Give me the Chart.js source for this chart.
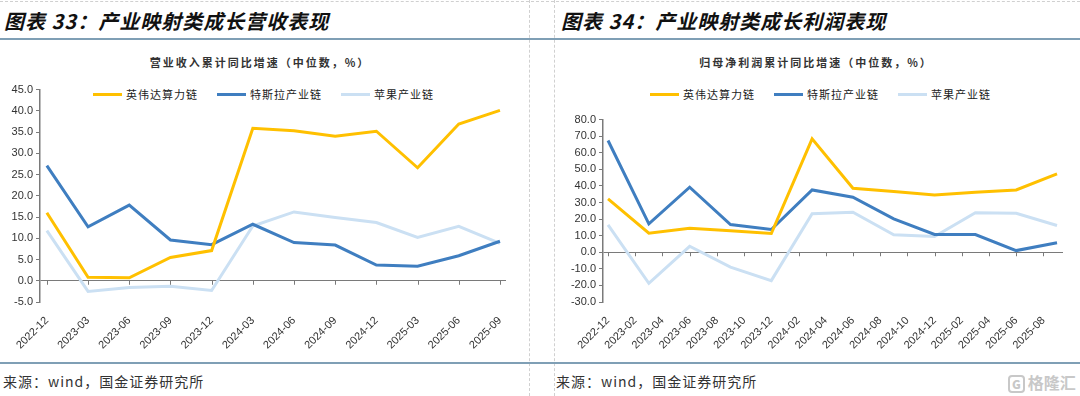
<!DOCTYPE html>
<html>
<head>
<meta charset="utf-8">
<script src="https://cdn.jsdelivr.net/npm/chart.js@4"></script>
<style>
  body { margin: 0; width: 1080px; height: 396px; background: #fff; position: relative; overflow: hidden;
         font-family: "Noto Sans CJK SC", sans-serif; color: #222; }
  .abs { position: absolute; }
  .dashH { left: 0; top: 1px; width: 1080px; border-top: 1px dashed #d0d0d0; }
  .dashV { top: 0; height: 396px; border-left: 1px dashed #d0d0d0; }
  .rule { left: 0; width: 1080px; height: 2px; background: #7f9fb5; }
  .title { top: 6px; font-size: 20px; font-weight: bold; font-style: italic; letter-spacing: 1px; color: #111; }
  .sub { top: 54px; font-size: 11px; font-weight: bold; letter-spacing: 2px; color: #333; text-align: center; }
  .legend { top: 86px; font-size: 11px; letter-spacing: 1px; color: #222; display: flex; align-items: center; white-space: nowrap; }
  .legend i { display: inline-block; width: 29px; height: 3px; margin: 0 4px 0 0; }
  .legend span { margin-right: 19px; }
  .src { top: 371px; font-size: 14px; letter-spacing: 1px; color: #333; }
  .wm { left: 1008px; top: 370px; font-size: 16px; font-weight: bold; color: #c8c8c8; white-space: nowrap; }
  .wm b { display: inline-block; border: 2px solid #c8c8c8; border-radius: 4px; font-size: 12px; line-height: 14px; padding: 0 2px; margin-right: 3px; }
</style>
</head>
<body>
<div class="abs dashH"></div>
<div class="abs dashV" style="left:529px"></div>
<div class="abs dashV" style="left:554px"></div>
<div class="abs rule" style="top:38px"></div>
<div class="abs rule" style="top:362px"></div>

<div class="abs title" style="left:4px">图表 33：产业映射类成长营收表现</div>
<div class="abs title" style="left:561px">图表 34：产业映射类成长利润表现</div>
<div class="abs sub" style="left:60px;width:400px">营业收入累计同比增速（中位数，%）</div>
<div class="abs sub" style="left:616px;width:400px">归母净利润累计同比增速（中位数，%）</div>
<div class="abs legend" id="legendA" style="left:93px"></div>
<div class="abs legend" id="legendB" style="left:650px"></div>

<div class="abs" style="left:0;top:80px;width:530px;height:272px"><canvas id="chartA"></canvas></div>
<div class="abs" style="left:553px;top:110px;width:527px;height:242px"><canvas id="chartB"></canvas></div>

<div class="abs src" style="left:3px">来源：wind，国金证券研究所</div>
<div class="abs src" style="left:556px">来源：wind，国金证券研究所</div>
<div class="abs wm"><b>G</b>格隆汇</div>

<script>
// series names and colours
const seriesNames = ['英伟达算力链', '特斯拉产业链', '苹果产业链'];
const seriesColors = ['#ffc000', '#3f7ec0', '#cbe0f3'];

// chart 33: revenue growth, quarterly
const revDates = ['2022-12', '2023-03', '2023-06', '2023-09', '2023-12', '2024-03',
                  '2024-06', '2024-09', '2024-12', '2025-03', '2025-06', '2025-09'];
const revNvidia = [16.0, 0.8, 0.7, 5.5, 7.1, 35.9, 35.3, 34.0, 35.2, 26.6, 36.9, 40.1];
const revTesla  = [27.1, 12.7, 17.8, 9.6, 8.5, 13.3, 9.0, 8.4, 3.7, 3.4, 5.9, 9.3];
const revApple  = [11.8, -2.5, -1.6, -1.3, -2.3, 12.9, 16.2, 14.9, 13.7, 10.2, 12.8, 8.8];
const revTickLabels = revDates;

// chart 34: net profit growth, quarterly points on a monthly axis
const profDates = revDates;
const profNvidia = [32.2, 11.5, 14.5, 12.9, 11.3, 68.4, 38.6, 36.6, 34.6, 36.2, 37.6, 47.3];
const profTesla  = [67.4, 17.1, 39.2, 16.7, 13.7, 37.6, 33.2, 20.1, 10.7, 10.7, 1.0, 5.7];
const profApple  = [16.5, -18.7, 3.6, -9.0, -17.1, 23.2, 24.1, 10.5, 9.5, 23.8, 23.5, 16.1];
const profTickLabels = ['2022-12', '2023-02', '2023-04', '2023-06', '2023-08', '2023-10', '2023-12',
                        '2024-02', '2024-04', '2024-06', '2024-08', '2024-10', '2024-12',
                        '2025-02', '2025-04', '2025-06', '2025-08'];

// months counted from 2022-12
function monthIdx(s) {
    const [y, m] = s.split('-').map(Number);
    return (y - 2022) * 12 + m - 12;
}

function buildLegend(id) {
    const el = document.getElementById(id);
    seriesNames.forEach((n, i) => {
        el.insertAdjacentHTML('beforeend', `<i style="background:${seriesColors[i]}"></i><span>${n}</span>`);
    });
}
buildLegend('legendA');
buildLegend('legendB');

const tickFont = { family: '"Liberation Sans", Arial, sans-serif', size: 11 };

// zero line + small tick marks along it
const zeroTicks = {
    id: 'zeroTicks',
    afterDatasetsDraw(chart) {
        const x = chart.scales.x, y = chart.scales.y;
        const y0 = y.getPixelForValue(0);
        const ctx = chart.ctx;
        ctx.save();
        ctx.strokeStyle = '#7a7a7a';
        ctx.lineWidth = 1;
        x.ticks.forEach(t => {
            const px = Math.round(x.getPixelForValue(t.value)) + 0.5;
            ctx.beginPath();
            ctx.moveTo(px, y0);
            ctx.lineTo(px, y0 + 4);
            ctx.stroke();
        });
        ctx.restore();
    }
};

function makeChart(canvasId, dates, series, yMin, yMax, yStep, xMin, xStep, tickLabels, yWidth, padTop, padRight) {
    const datasets = series.map((vals, i) => ({
        label: seriesNames[i],
        data: vals.map((v, k) => ({ x: monthIdx(dates[k]), y: v })),
        borderColor: seriesColors[i],
        backgroundColor: seriesColors[i],
        borderWidth: 3,
        pointRadius: 0,
        tension: 0,
        order: i === 2 ? 3 : i
    }));
    return new Chart(document.getElementById(canvasId), {
        type: 'line',
        data: { datasets },
        options: {
            responsive: true,
            maintainAspectRatio: false,
            animation: false,
            layout: { padding: { top: padTop, right: padRight, left: 0, bottom: 0 } },
            plugins: { legend: { display: false }, tooltip: { enabled: false } },
            scales: {
                x: {
                    type: 'linear',
                    min: xMin,
                    max: 33.44,
                    grid: { display: false },
                    border: { display: false },
                    ticks: {
                        stepSize: xStep,
                        includeBounds: false,
                        autoSkip: false,
                        minRotation: 45,
                        maxRotation: 45,
                        color: '#333',
                        font: tickFont,
                        padding: 4,
                        callback: v => tickLabels[v / xStep] || ''
                    },
                    afterFit: s => { s.height = 50; }
                },
                y: {
                    min: yMin,
                    max: yMax,
                    grid: {
                        color: c => c.tick && c.tick.value === 0 ? '#7a7a7a' : 'rgba(0,0,0,0)',
                        tickColor: '#7a7a7a',
                        tickLength: 4
                    },
                    border: { color: '#7a7a7a', width: 1.5 },
                    ticks: {
                        stepSize: yStep,
                        color: '#333',
                        font: tickFont,
                        padding: 3,
                        callback: v => v.toFixed(1)
                    },
                    afterFit: s => { s.width = yWidth; }
                }
            }
        },
        plugins: [zeroTicks]
    });
}

makeChart('chartA', revDates, [revNvidia, revTesla, revApple], -5, 45, 5, -0.5, 3, revTickLabels, 40, 8, 24);
makeChart('chartB', profDates, [profNvidia, profTesla, profApple], -30, 80, 10, -0.37, 2, profTickLabels, 50, 9, 17);
</script>
</body>
</html>
